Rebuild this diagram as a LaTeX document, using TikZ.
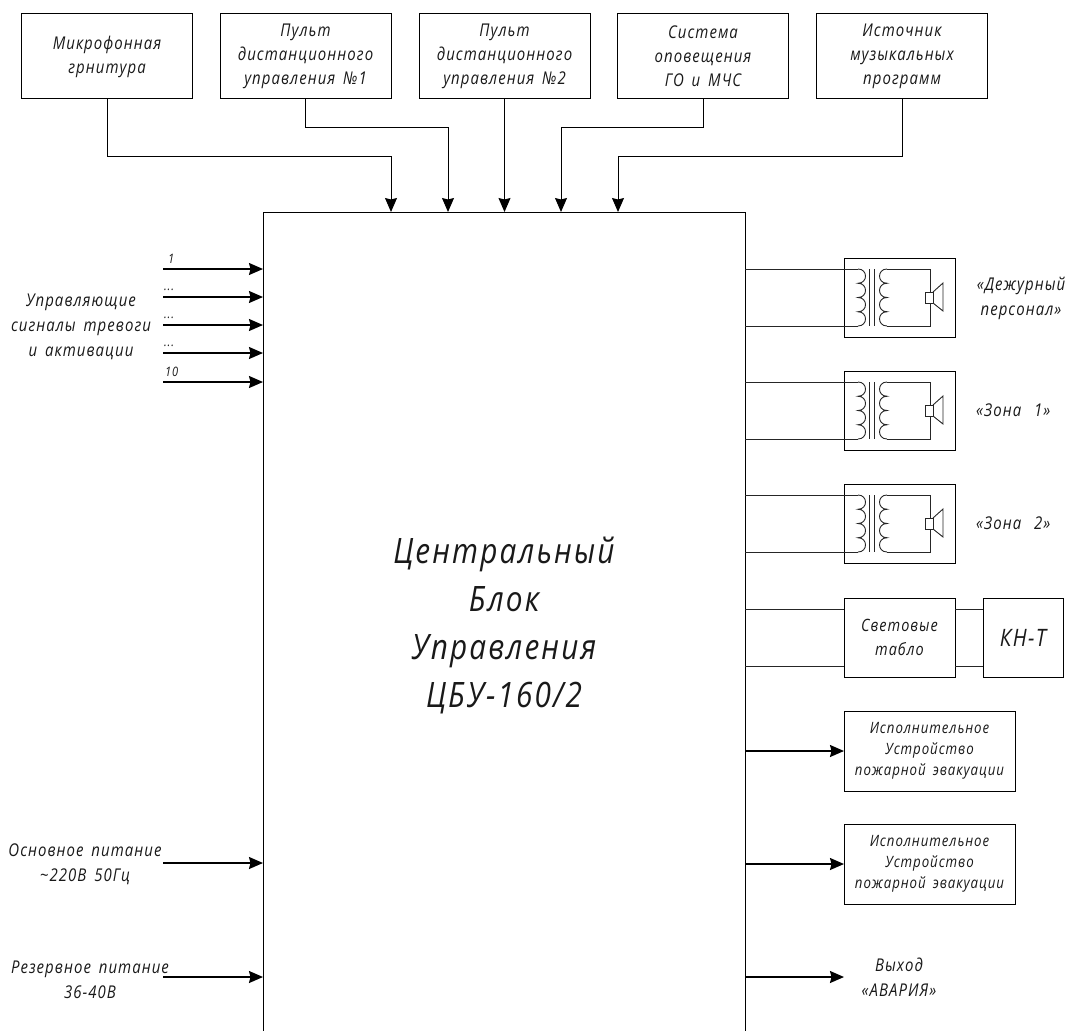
\documentclass[tikz,border=0pt]{standalone}
\usepackage{fontspec}
\setmainfont{Open Sans}[LetterSpace=6,WordSpace=1.6,FakeStretch=0.85]
\usetikzlibrary{arrows.meta}
\newcommand{\fs}[2]{\fontsize{#1}{#2}\selectfont\itshape}
\tikzset{
  x=1pt,y=-1pt,
  every node/.style={text=black!90,font=\itshape},
  blk/.style={draw=black,line width=1pt,minimum width=#1,inner sep=0pt,outer sep=0pt,align=center},
  topbox/.style={blk=171pt,minimum height=85pt,font=\fs{17.6}{24}},
  spkbox/.style={blk=111pt,minimum height=79pt},
  actbox/.style={blk=171pt,minimum height=80pt,font=\fs{15.6}{21}},
  lab/.style={align=center,inner sep=0pt,font=\fs{17.6}{25}},
  tiny/.style={inner sep=0pt,font=\fs{13}{12}},
  wire/.style={line width=0.9pt,draw=black!85},
  arr/.style={line width=1.6pt,draw=black,-{Stealth[length=14pt,width=12pt,inset=1.5pt]}},
  varr/.style={line width=1pt,draw=black,-{Stealth[length=14pt,width=12pt,inset=1.5pt]}},
}
\newcommand{\coil}[2]{% x of wire end, bulge
  \draw[wire] (#1,269)
    .. controls (#1+#2,269) and (#1+#2,283.25) .. (#1,283.25)
    .. controls (#1+#2,283.25) and (#1+#2,297.5) .. (#1,297.5)
    .. controls (#1+#2,297.5) and (#1+#2,311.75) .. (#1,311.75)
    .. controls (#1+#2,311.75) and (#1+#2,326) .. (#1,326);}
\newcommand{\xfspk}[1]{% y shift
  \begin{scope}[yshift=-#1pt]
    \coil{858}{10}
    \coil{887}{-10}
    \draw[wire] (869,269) -- (869,326) (874,269) -- (874,326);
    \draw[wire] (887,269) -- (930,269) -- (930,292) (887,326) -- (930,326) -- (930,303);
    \draw[wire] (925,292) rectangle (933,303);
    \draw[wire] (933,292) -- (943,283) -- (943,311) -- (933,303);
  \end{scope}}
\begin{document}
\begin{tikzpicture}
\useasboundingbox (0,0) rectangle (1070,1030);
\node[blk=482pt,minimum height=826pt,font=\fs{35}{48}] (main) at (504,625) {Центральный\\Блок\\Управления\\ЦБУ-160/2};

\node[topbox] (t1) at (107,56.5) {Микрофонная\\грнитура};
\node[topbox] (t2) at (305.5,56.5) {Пульт\\дистанционного\\управления №1};
\node[topbox] (t3) at (504.5,56.5) {Пульт\\дистанционного\\управления №2};
\node[topbox] (t4) at (703,56.5) {Система\\оповещения\\ГО и МЧС};
\node[topbox] (t5) at (902,56.5) {Источник\\музыкальных\\программ};

\coordinate (a1) at (391,212);
\coordinate (a2) at (448,212);
\coordinate (a3) at (504.5,212);
\coordinate (a4) at (561,212);
\coordinate (a5) at (618,212);
\draw[varr] (t1.south) -- (107,156) -| (a1);
\draw[varr] (t2.south) -- (305.5,128) -| (a2);
\draw[varr] (t3.south) -- (a3);
\draw[varr] (t4.south) -- (703,128) -| (a4);
\draw[varr] (t5.south) -- (902,156) -| (a5);

% left inputs
\foreach \n/\y in {1/269,2/297,3/325,4/353,5/382,6/863,7/977}{
  \coordinate (l\n) at (163,\y);
  \draw[arr] (l\n) -- (l\n -| main.west);
}
\node[tiny,anchor=south west] (n1) at (168,264) {1};
\node[tiny,anchor=south west] (n2) at (164,291) {...};
\node[tiny,anchor=south west] (n3) at (164,319) {...};
\node[tiny,anchor=south west] (n4) at (164,347) {...};
\node[tiny,anchor=south west] (n5) at (165,377) {10};
\node[lab] (ctl) at (81,327) {Управляющие\\сигналы тревоги\\и активации};
\node[lab] (p1) at (85,864.5) {Основное питание\\\textasciitilde220В 50Гц};
\node[lab] (p2) at (90,979.5) {Резервное питание\\36-40В};

% right side
\foreach \n/\y/\s in {1/297.5/0,2/410.5/113,3/523.5/226}{
  \node[spkbox] (z\n) at (899.5,\y) {};
  \xfspk{\s}
}
\foreach \n/\s in {1/269,2/382,3/495}{
  \coordinate (c\n) at (858,\s);
  \draw[wire] (c\n -| main.east) -- (c\n);
  \coordinate (d\n) at (858,\s+57);
  \draw[wire] (d\n -| main.east) -- (d\n);
}
\node[lab] (zl1) at (1021,298) {«Дежурный\\персонал»};
\node[lab,anchor=west] (zl2) at (976,410) {«Зона\hspace{5pt} 1»};
\node[lab,anchor=west] (zl3) at (976,523.5) {«Зона\hspace{5pt} 2»};

\node[spkbox,font=\fs{17}{24}] (tb) at (899.5,637.5) {Световые\\табло};
\node[blk=80pt,minimum height=79pt,font=\fs{24}{24}] (kn) at (1023,637.5) {КН-Т};
\coordinate (u1) at (844,609);
\coordinate (u2) at (844,666);
\draw[wire] (u1 -| main.east) -- (u1) (u2 -| main.east) -- (u2);
\draw[wire] (u1 -| tb.east) -- (u1 -| kn.west) (u2 -| tb.east) -- (u2 -| kn.west);

\node[actbox] (e1) at (929.5,751) {Исполнительное\\Устройство\\пожарной эвакуации};
\node[actbox] (e2) at (929.5,864) {Исполнительное\\Устройство\\пожарной эвакуации};
\draw[arr] (e1 -| main.east) -- (e1.west);
\draw[arr] (e2 -| main.east) -- (e2.west);
\coordinate (out) at (844,977);
\draw[arr] (out -| main.east) -- (out);
\node[lab] (ol) at (899,977) {Выход\\«АВАРИЯ»};
\end{tikzpicture}
\end{document}
